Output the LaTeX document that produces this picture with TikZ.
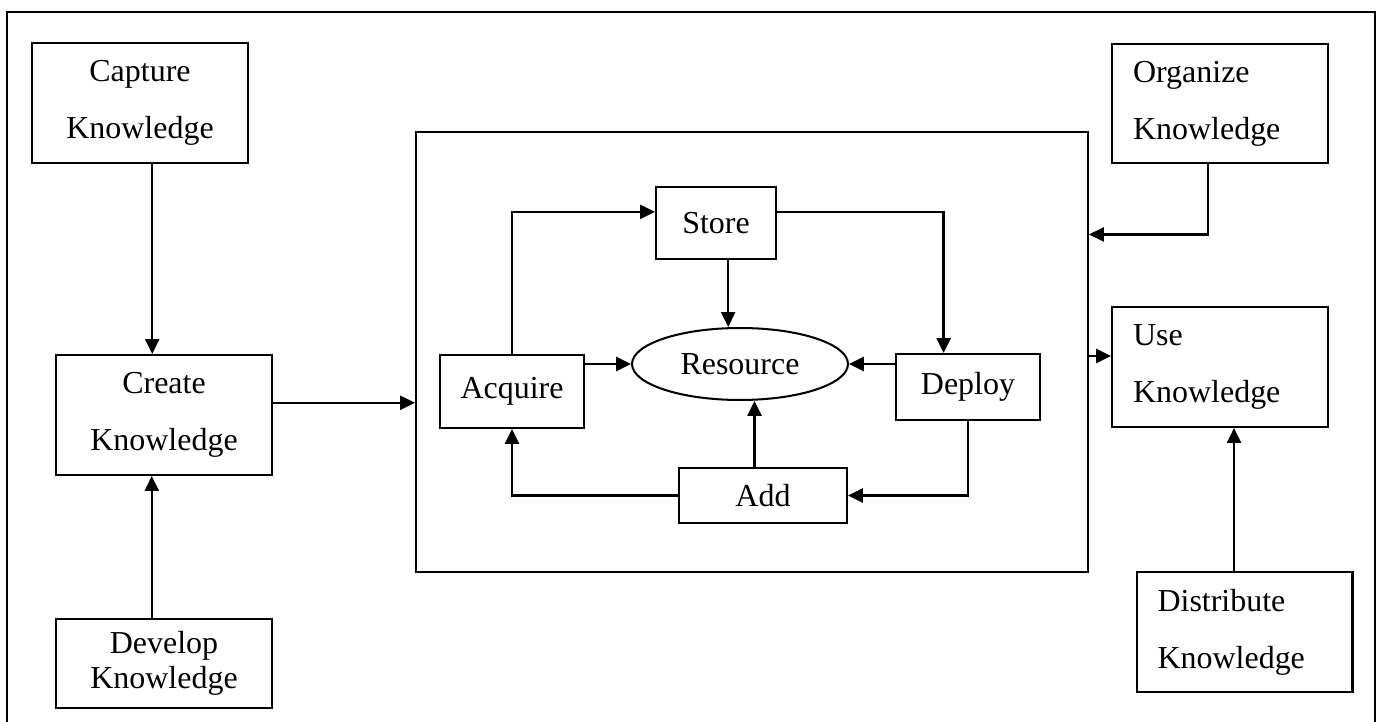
\documentclass[tikz,border=0pt]{standalone}
\usepackage{fontspec}
\setmainfont{Liberation Serif}
\usetikzlibrary{calc,arrows.meta,shapes.geometric}

\begin{document}
\begin{tikzpicture}[x=0.02cm,y=-0.02cm,line width=1.15pt,
  font=\fontsize{18.2pt}{32.4pt}\selectfont]

\tikzset{kBox/.style={draw, rectangle, inner sep=0pt, align=center},
leftBox/.style={draw, rectangle, inner xsep=0.42cm, inner ysep=0pt, text width=3.48cm, align=left, minimum height=2.4cm},
resEllipse/.style={draw, ellipse, inner sep=0pt, minimum width=4.32cm, minimum height=1.44cm},
flowArrow/.style={-{Triangle[length=8.5pt,width=8pt]}, line width=1.3pt}}

\useasboundingbox (0,0) rectangle (1382,722);

%outer frame, open at the bottom
\draw (7,722) -- (7,12) -- (1375,12) -- (1375,722);

\node[kBox, minimum width=4.32cm, minimum height=2.4cm] (cap) at (140,103) {Capture\\Knowledge};
\node[kBox, minimum width=4.32cm, minimum height=2.4cm] (cre) at (164,415) {Create\\Knowledge};
\node[kBox, minimum width=4.32cm, minimum height=1.78cm,
  font=\fontsize{18.2pt}{19.9pt}\selectfont] (dev) at (164,663.5) {Develop\\Knowledge};

\node[leftBox, minimum height=2.38cm] (org) at (1220,103.5) {Organize\\Knowledge};
\node[leftBox] (use) at (1220,367) {Use\\Knowledge};
\node[leftBox] (dis) at (1244.5,632) {Distribute\\Knowledge};

%the cycle in the middle
\node[draw, minimum width=13.44cm, minimum height=8.8cm] (core) at (752,352) {};
\node[kBox, minimum width=2.4cm, minimum height=1.44cm] (sto) at (716,223) {Store};
\node[resEllipse] (res) at (740,364) {Resource};
\node[kBox, minimum width=2.88cm, minimum height=1.46cm] (acq) at (512,391.5) {Acquire};
\node[kBox, minimum width=2.88cm, minimum height=1.32cm] (dep) at (968,387) {Deploy};
\node[kBox, minimum width=3.36cm, minimum height=1.1cm] (add) at (763,495.5) {Add};

\coordinate (capOut) at ($(cap.south west)!0.556!(cap.south east)$);
\coordinate (devOut) at ($(dev.north west)!0.444!(dev.north east)$);
\coordinate (creOut) at ($(cre.north east)!0.4!(cre.south east)$);
\coordinate (stoIn) at ($(sto.north west)!0.35!(sto.south west)$);
\coordinate (stoOut) at ($(sto.north east)!0.35!(sto.south east)$);
\coordinate (stoDown) at ($(sto.south west)!0.6!(sto.south east)$);
\coordinate (depIn) at ($(dep.north west)!0.333!(dep.north east)$);
\coordinate (addUp) at ($(add.north west)!0.45!(add.north east)$);
\coordinate (orgOut) at ($(org.south west)!0.444!(org.south east)$);
\coordinate (coreIn) at ($(core.north east)!0.234!(core.south east)$);
\coordinate (coreOut) at ($(core.north east)!0.509!(core.south east)$);
\coordinate (disOut) at ($(dis.north west)!0.452!(dis.north east)$);

\draw[flowArrow] (capOut) -- (capOut |- cre.north);
\draw[flowArrow] (devOut) -- (devOut |- cre.south);
\draw[flowArrow] (creOut) -- (creOut -| core.west);

\draw[flowArrow] (acq.north) |- (stoIn);
\draw[flowArrow] (stoOut) -| (depIn);
\draw[flowArrow] (stoDown) -- (stoDown |- res.north);
\draw[flowArrow] (acq.east |- res.west) -- (res.west);
\draw[flowArrow] (dep.west |- res.east) -- (res.east);
\draw[flowArrow] (addUp) -- (addUp |- res.south);
\draw[flowArrow] (add.west) -| (acq.south);
\draw[flowArrow] (dep.south) |- (add.east);

\draw[flowArrow] (orgOut) |- (coreIn);
\draw[flowArrow] (coreOut) -- (coreOut -| use.west);
\draw[flowArrow] (disOut) -- (disOut |- use.south);

\end{tikzpicture}
\end{document}
